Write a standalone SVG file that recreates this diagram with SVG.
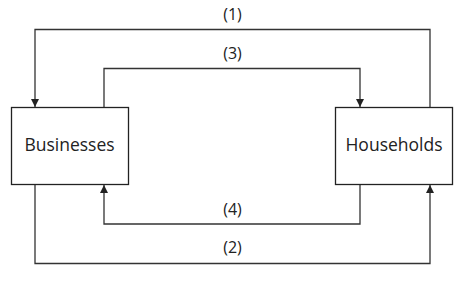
<svg xmlns="http://www.w3.org/2000/svg" width="469" height="288" viewBox="0 0 469 288">
<defs>
<marker id="arr" markerWidth="8" markerHeight="8" viewBox="0 0 8 8" refX="8" refY="4" orient="auto" markerUnits="userSpaceOnUse">
<path d="M0,0 L8,4 L0,8 Z" fill="#222"/>
</marker>
<style>
.box{fill:#fff;stroke:#222;stroke-width:1.3}
.ln{fill:none;stroke:#333;stroke-width:1.3}
.lbl{font-family:"Open Sans","Liberation Sans",sans-serif;font-size:16px;fill:#222;text-anchor:middle}
.nt{font-family:"Open Sans","Liberation Sans",sans-serif;font-size:17.5px;fill:#222;text-anchor:middle}
</style>
</defs>
<rect width="469" height="288" fill="#fff"/>
<g id="connectors">
<path class="ln" d="M430,107.5 V29.5 H35 V107" marker-end="url(#arr)"/>
<path class="ln" d="M104,107.5 V68.5 H360 V107" marker-end="url(#arr)"/>
<path class="ln" d="M360,184.5 V224 H104 V185" marker-end="url(#arr)"/>
<path class="ln" d="M35,184.5 V263.5 H430 V185" marker-end="url(#arr)"/>
<text class="lbl" x="232.5" y="20">(1)</text>
<text class="lbl" x="232.5" y="58.5">(3)</text>
<text class="lbl" x="232.5" y="214.5">(4)</text>
<text class="lbl" x="232.5" y="252.5">(2)</text>
</g>
<g id="businesses">
<rect class="box" x="11.5" y="107.5" width="117" height="77"/>
<text class="nt" x="69.5" y="151">Businesses</text>
</g>
<g id="households">
<rect class="box" x="335.5" y="107.5" width="117" height="77"/>
<text class="nt" x="394" y="151">Households</text>
</g>
</svg>
